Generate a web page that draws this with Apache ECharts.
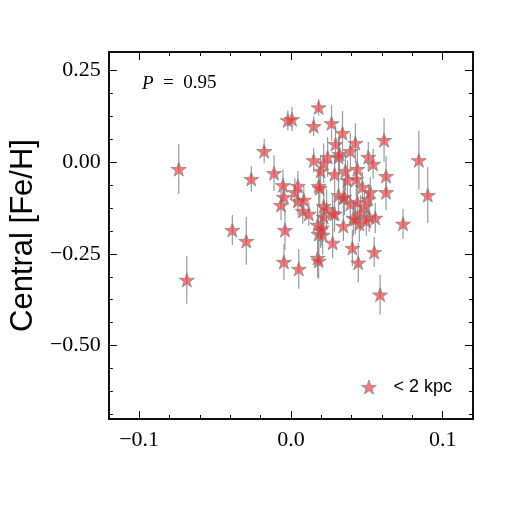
<!DOCTYPE html>
<html>
<head>
<meta charset="utf-8">
<script src="https://cdn.jsdelivr.net/npm/echarts@6/dist/echarts.min.js"></script>
<style>
  html, body { margin: 0; padding: 0; background: #fff; }
  #chart { width: 525px; height: 525px; }
</style>
</head>
<body>
<div id="chart"></div>
<script>
const seriesName = '< 2 kpc'
const xVals = [
  -0.0739, -0.0686, -0.0386, -0.0294, -0.0261, -0.0176, -0.0111, -0.0065, -0.0052, -0.0046,
  -0.0039, -0.0046, -0.0020, 0.0007, 0.0026, 0.0046, 0.0046, 0.0052, 0.0078, 0.0085,
  0.0118, 0.0150, 0.0150, 0.0183, 0.0183, 0.0190, 0.0196, 0.0176, 0.0183, 0.0209,
  0.0196, 0.0176, 0.0183, 0.0216, 0.0216, 0.0216, 0.0235, 0.0242, 0.0268, 0.0275,
  0.0275, 0.0288, 0.0288, 0.0294, 0.0314, 0.0314, 0.0320, 0.0340, 0.0346, 0.0346,
  0.0359, 0.0373, 0.0392, 0.0392, 0.0405, 0.0412, 0.0425, 0.0431, 0.0438, 0.0438,
  0.0451, 0.0458, 0.0471, 0.0444, 0.0484, 0.0510, 0.0510, 0.0516, 0.0523, 0.0542,
  0.0556, 0.0549, 0.0588, 0.0614, 0.0627, 0.0627, 0.0739, 0.0843, 0.0902, 0.0425,
  0.0497, 0.0203, 0.0353,
]
const yVals = [
  -0.019, -0.321, -0.185, -0.215, -0.046, 0.030, -0.030, -0.117, -0.063, -0.095,
  -0.185, -0.272, 0.114, 0.117, -0.082, -0.065, -0.106, -0.291, -0.133, -0.103,
  -0.141, 0.098, 0.005, 0.149, -0.065, -0.071, -0.024, -0.171, -0.196, -0.198,
  -0.185, -0.261, -0.269, -0.003, -0.120, -0.149, -0.128, 0.014, 0.106, -0.139,
  -0.220, -0.033, -0.141, 0.049, 0.014, -0.090, 0.022, 0.079, -0.098, -0.174,
  -0.024, -0.049, 0.030, -0.114, -0.234, -0.152, 0.052, -0.046, -0.019, -0.109,
  -0.168, -0.139, -0.068, -0.274, -0.120, 0.014, -0.101, -0.149, -0.082, -0.005,
  -0.152, -0.245, -0.361, 0.060, -0.038, -0.082, -0.168, 0.005, -0.090, -0.155,
  -0.160, -0.179, -0.095,
]
const yErr = [
  0.068, 0.065, 0.041, 0.065, 0.035, 0.033, 0.049, 0.041, 0.043, 0.038,
  0.054, 0.049, 0.027, 0.033, 0.038, 0.041, 0.038, 0.054, 0.035, 0.038,
  0.033, 0.027, 0.033, 0.022, 0.054, 0.054, 0.041, 0.054, 0.054, 0.054,
  0.049, 0.054, 0.049, 0.054, 0.054, 0.049, 0.054, 0.054, 0.049, 0.049,
  0.041, 0.054, 0.049, 0.049, 0.054, 0.054, 0.054, 0.060, 0.049, 0.041,
  0.054, 0.054, 0.049, 0.054, 0.049, 0.049, 0.054, 0.049, 0.054, 0.049,
  0.049, 0.049, 0.041, 0.054, 0.041, 0.041, 0.041, 0.041, 0.041, 0.041,
  0.041, 0.041, 0.054, 0.060, 0.054, 0.049, 0.041, 0.080, 0.076, 0.041,
  0.041, 0.049, 0.049,
]
const xMajor = [-0.1, 0, 0.1]
const xMinor = [-0.12, -0.08, -0.06, -0.04, -0.02, 0.02, 0.04, 0.06, 0.08, 0.12]
const yMajor = [0.25, 0, -0.25, -0.5]
const yMinor = [0.1875, 0.125, 0.0625, -0.0625, -0.125, -0.1875, -0.3125, -0.375, -0.4375, -0.5625, -0.625, -0.6875]

const starPath = 'path://M50,0 L61.8,35.1 L98.1,35.1 L68.8,56.7 L79.4,90.5 L50,69.1 L20.6,90.5 L31.2,56.7 L1.9,35.1 L38.2,35.1 Z'
const serif = 'Liberation Serif'
const starFill = 'rgba(255, 40, 40, 0.8)'

function fmt(v, d) {
  const s = Math.abs(v).toFixed(d)
  return v < 0 ? '\u2212' + s : s
}

function makeAxis(pos, min, max, ticks, len, labels, digits) {
  const isX = pos === 'bottom' || pos === 'top'
  return {
    type: 'value',
    position: pos,
    min, max,
    splitLine: { show: false },
    axisLine: { show: true, onZero: false, lineStyle: { color: '#000', width: 1.5 } },
    axisTick: { show: true, inside: true, length: len, customValues: ticks, lineStyle: { color: '#000', width: 1 } },
    axisLabel: labels
      ? {
          show: true,
          customValues: ticks,
          margin: isX ? 10 : 8,
          color: '#000',
          fontFamily: serif,
          fontSize: 22,
          formatter: v => fmt(v, digits),
        }
      : { show: false },
  }
}

const points = xVals.map((x, i) => [x, yVals[i], yErr[i]])

const chart = echarts.init(document.getElementById('chart'))

chart.setOption({
  animation: false,
  backgroundColor: '#fff',
  grid: { left: 105, right: 52, top: 52, bottom: 106 },
  xAxis: [
    makeAxis('bottom', -0.12, 0.12, xMajor, 8, true, 1),
    makeAxis('bottom', -0.12, 0.12, xMinor, 4, false),
    makeAxis('top', -0.12, 0.12, xMajor, 8, false),
    makeAxis('top', -0.12, 0.12, xMinor, 4, false),
  ],
  yAxis: [
    Object.assign(makeAxis('left', -0.7, 0.3, yMajor, 8, true, 2), {
      name: 'Central [Fe/H]',
      nameLocation: 'middle',
      nameGap: 56,
      nameTextStyle: { fontFamily: 'Liberation Sans', fontSize: 31, color: '#000' },
    }),
    makeAxis('left', -0.7, 0.3, yMinor, 4, false),
    makeAxis('right', -0.7, 0.3, yMajor, 8, false),
    makeAxis('right', -0.7, 0.3, yMinor, 4, false),
  ],
  legend: {
    right: 68,
    bottom: 124,
    itemWidth: 15,
    itemHeight: 15,
    data: [{ name: seriesName, icon: starPath, itemStyle: { color: starFill, borderColor: '#888', borderWidth: 1 } }],
    textStyle: { fontFamily: 'Liberation Sans', fontSize: 18, color: '#000', padding: [0, 0, 0, 12] },
  },
  graphic: [
    {
      type: 'text',
      left: 142,
      top: 74,
      style: {
        text: '{i|P}  =  0.95',
        fontFamily: serif,
        fontSize: 19,
        fill: '#000',
        rich: { i: { fontStyle: 'italic', fontFamily: serif, fontSize: 19 } },
      },
    },
  ],
  series: [
    {
      type: 'custom',
      silent: true,
      xAxisIndex: 0,
      yAxisIndex: 0,
      data: points,
      renderItem(params, api) {
        const x = api.value(0)
        const y = api.value(1)
        const e = api.value(2)
        const p1 = api.coord([x, y - e])
        const p2 = api.coord([x, y + e])
        return {
          type: 'line',
          shape: { x1: p1[0], y1: p1[1], x2: p2[0], y2: p2[1] },
          style: { stroke: '#9a9a9a', lineWidth: 1.2 },
        }
      },
      z: 1,
    },
    {
      name: seriesName,
      type: 'scatter',
      xAxisIndex: 0,
      yAxisIndex: 0,
      data: points.map(p => [p[0], p[1]]),
      symbol: starPath,
      symbolSize: 15,
      symbolKeepAspect: true,
      itemStyle: { color: starFill, borderColor: '#888', borderWidth: 1 },
      z: 2,
    },
  ],
})
</script>
</body>
</html>
